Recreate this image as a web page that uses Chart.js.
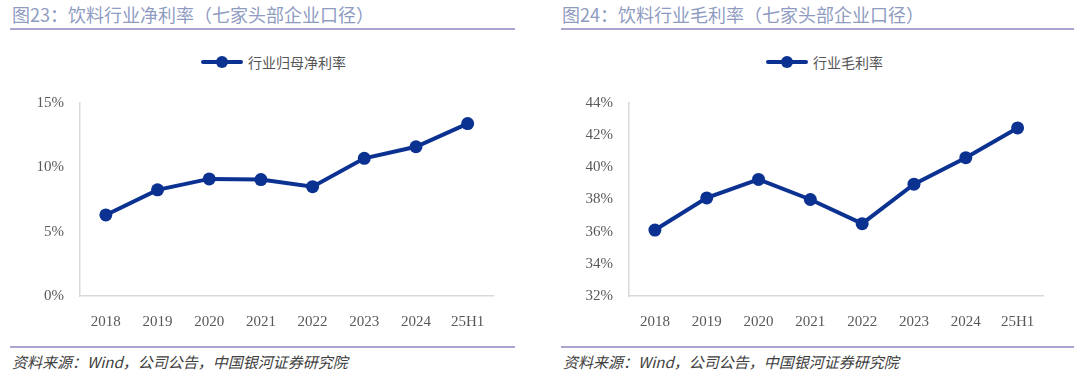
<!DOCTYPE html>
<html>
<head>
<meta charset="utf-8">
<script src="https://cdn.jsdelivr.net/npm/chart.js@4/dist/chart.umd.min.js"></script>
<style>
  html,body{margin:0;padding:0;background:#fff;width:1080px;height:379px;overflow:hidden;}
  .title{position:absolute;top:1px;font-family:"Noto Sans CJK SC",sans-serif;font-size:18px;color:#8f9cc2;white-space:nowrap;}
  .rule{position:absolute;height:2px;background:#a9a6cf;}
  .src{position:absolute;top:351px;font-family:"Noto Sans CJK SC",serif;font-style:italic;font-size:15px;color:#404040;white-space:nowrap;}
  .legend{position:absolute;top:52px;font-family:"Noto Sans CJK SC",sans-serif;font-size:14px;color:#555;white-space:nowrap;display:flex;align-items:center;}
  .legend .sw{position:relative;width:42px;height:4px;background:#0b3191;margin-right:5px;border-radius:2px;}
  .legend .sw::after{content:"";position:absolute;left:15px;top:-4px;width:12px;height:12px;border-radius:50%;background:#0b3191;}
  canvas{position:absolute;}
</style>
</head>
<body>
<div class="title" style="left:12px;">图23：饮料行业净利率（七家头部企业口径）</div>
<div class="rule" style="left:10px;width:505px;top:28px;"></div>
<div class="title" style="left:562px;">图24：饮料行业毛利率（七家头部企业口径）</div>
<div class="rule" style="left:561px;width:513px;top:28px;"></div>

<div class="legend" style="left:201px;"><span class="sw"></span>行业归母净利率</div>
<div class="legend" style="left:766px;"><span class="sw"></span>行业毛利率</div>

<div class="canvaswrap" style="position:absolute;left:20px;top:86px;width:480px;height:256px;"><canvas id="c1"></canvas></div>
<div class="canvaswrap" style="position:absolute;left:569px;top:86px;width:481px;height:256px;"><canvas id="c2"></canvas></div>

<div class="rule" style="left:10px;width:505px;top:346px;height:1.5px;"></div>
<div class="src" style="left:12px;">资料来源：Wind，公司公告，中国银河证券研究院</div>
<div class="rule" style="left:561px;width:513px;top:346px;height:1.5px;"></div>
<div class="src" style="left:563px;">资料来源：Wind，公司公告，中国银河证券研究院</div>

<script>
const categories = ["2018","2019","2020","2021","2022","2023","2024","25H1"];
const netMargin = [6.3, 8.25, 9.1, 9.05, 8.5, 10.7, 11.6, 13.4];
const grossMargin = [36.1, 38.1, 39.25, 38.0, 36.5, 38.95, 40.6, 42.45];
const netTicks = {min:0, max:15, step:5};
const grossTicks = {min:32, max:44, step:2};
const netLabel = "行业归母净利率";
const grossLabel = "行业毛利率";

const navy = "#0b3191";

function makeChart(id, label, data, t){
  new Chart(document.getElementById(id), {
    type: "line",
    data: {
      labels: categories,
      datasets: [{
        label: label,
        data: data,
        borderColor: navy,
        backgroundColor: navy,
        borderWidth: 4,
        pointRadius: 6.5,
        pointHoverRadius: 6.5,
        pointBackgroundColor: navy,
        pointBorderColor: navy,
        pointBorderWidth: 0,
        tension: 0,
        clip: false
      }]
    },
    options: {
      responsive: true,
      maintainAspectRatio: false,
      animation: false,
      layout: {padding: {top: 2, right: 2, left: 0, bottom: 0}},
      plugins: {legend: {display: false}, tooltip: {enabled: false}},
      scales: {
        x: {
          offset: true,
          grid: {display: false},
          border: {display: true, color: "#d9d9d9", width: 1.5},
          ticks: {color: "#595959", font: {family: "Liberation Serif", size: 15}, padding: 9, maxRotation: 0},
          afterFit: s => { s.height = 46; }
        },
        y: {
          min: t.min, max: t.max,
          grid: {display: false},
          border: {display: true, color: "#d9d9d9", width: 1.5},
          ticks: {stepSize: t.step, color: "#595959", font: {family: "Liberation Serif", size: 15}, padding: 8,
                  callback: v => v + "%"},
          afterFit: s => { s.width = 60; }
        }
      }
    }
  });
}
makeChart("c1", netLabel, netMargin, netTicks);
makeChart("c2", grossLabel, grossMargin, grossTicks);
</script>
</body>
</html>
